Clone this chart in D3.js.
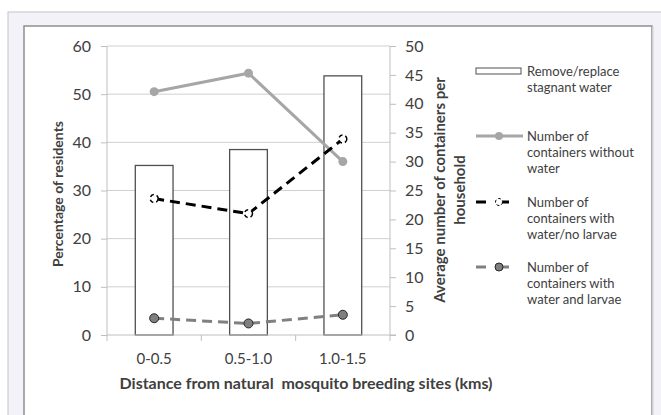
<!DOCTYPE html>
<html>
<head>
<meta charset="utf-8">
<script src="https://cdn.jsdelivr.net/npm/d3@7"></script>
<style>
  body { margin: 0; background: #fff; }
  text { font-family: Lato, "Open Sans", sans-serif; fill: #404040; }
  .axis path, .axis line { stroke: #bfbfbf; }
</style>
</head>
<body>
<div id="chart"></div>
<script>
// values
var categories = ["0-0.5", "0.5-1.0", "1.0-1.5"];
var removeReplace = [35.2, 38.5, 53.8];      // % of residents (left axis)
var withoutWater = [42.1, 45.3, 30.0];       // containers (right axis)
var waterNoLarvae = [23.6, 21.0, 33.9];
var waterLarvae = [2.9, 2.0, 3.5];
var leftTicks = [0, 10, 20, 30, 40, 50, 60];
var rightTicks = [0, 5, 10, 15, 20, 25, 30, 35, 40, 45, 50];

var W = 661, H = 415;
var plot = { left: 107, right: 390, top: 46, bottom: 335 };

var svg = d3.select("#chart").append("svg")
    .attr("width", W)
    .attr("height", H);

// window / panel background
svg.append("rect").attr("x", 8).attr("y", 12).attr("width", W).attr("height", H)
    .attr("fill", "#f2f2f8").attr("stroke", "#c4c4c8");
svg.append("rect").attr("x", 24).attr("y", 26).attr("width", 628).attr("height", H)
    .attr("fill", "#fff").attr("stroke", "#8f8f8f").attr("stroke-width", 1.5);
svg.append("line").attr("x1", 653).attr("x2", 653).attr("y1", 26).attr("y2", H)
    .attr("stroke", "#dcdcdc").attr("stroke-width", 1.5);

var x = d3.scaleBand()
    .domain(categories)
    .range([plot.left, plot.right])
    .paddingInner(0.6)
    .paddingOuter(0.3);
var yL = d3.scaleLinear().domain([0, 60]).range([plot.bottom, plot.top]);
var yR = d3.scaleLinear().domain([0, 50]).range([plot.bottom, plot.top]);
var cx = function(i) { return x(categories[i]) + x.bandwidth() / 2; };

// gridlines
svg.append("g").selectAll("line")
    .data(leftTicks.slice(1))
    .enter().append("line")
    .attr("x1", plot.left).attr("x2", plot.right)
    .attr("y1", function(d) { return yL(d); })
    .attr("y2", function(d) { return yL(d); })
    .attr("stroke", "#d0d0d0");

// bars
svg.append("g").selectAll("rect")
    .data(removeReplace)
    .enter().append("rect")
    .attr("x", function(d, i) { return x(categories[i]); })
    .attr("width", x.bandwidth())
    .attr("y", function(d) { return yL(d); })
    .attr("height", function(d) { return yL(0) - yL(d); })
    .attr("fill", "#fff")
    .attr("stroke", "#505050")
    .attr("stroke-width", 1.3);

// axes
var axL = svg.append("g").attr("class", "axis")
    .attr("transform", "translate(" + plot.left + ",0)")
    .call(d3.axisLeft(yL).tickValues(leftTicks).tickSize(6).tickPadding(10));
var axR = svg.append("g").attr("class", "axis")
    .attr("transform", "translate(" + plot.right + ",0)")
    .call(d3.axisRight(yR).tickValues(rightTicks).tickSize(6).tickPadding(9));
[axL, axR].forEach(function(a) {
    a.select(".domain").attr("d", "M0," + plot.top + "V" + plot.bottom);
    a.selectAll("text").style("font-size", "16px").attr("fill", "#404040");
});

var axX = svg.append("g").attr("class", "axis")
    .attr("transform", "translate(0," + plot.bottom + ")");
axX.append("line").attr("x1", plot.left).attr("x2", plot.right + 6)
    .attr("stroke", "#bfbfbf");
var edges = categories.map(function(c) { return x(c) - x.step() * x.paddingInner() / 2; });
edges[0] = plot.left;
edges.push(plot.right);
axX.selectAll(".tk").data(edges).enter().append("line")
    .attr("x1", function(d) { return d; }).attr("x2", function(d) { return d; })
    .attr("y1", 0).attr("y2", 6).attr("stroke", "#bfbfbf");
axX.selectAll(".lbl").data(categories).enter().append("text")
    .attr("x", function(d, i) { return cx(i); })
    .attr("y", 29)
    .attr("text-anchor", "middle")
    .style("font-size", "15px")
    .text(function(d) { return d; });

// line series
var line = d3.line()
    .x(function(d, i) { return cx(i); })
    .y(function(d) { return yR(d); });

function series(values, color, dash, width) {
    svg.append("path")
        .datum(values)
        .attr("d", line)
        .attr("fill", "none")
        .attr("stroke", color)
        .attr("stroke-width", width)
        .attr("stroke-dasharray", dash);
}
series(withoutWater, "#a6a6a6", null, 3);
series(waterNoLarvae, "#000", "10,6", 3);
series(waterLarvae, "#808080", "10,6", 3);

svg.append("g").selectAll("circle").data(withoutWater).enter().append("circle")
    .attr("cx", function(d, i) { return cx(i); }).attr("cy", function(d) { return yR(d); })
    .attr("r", 4.5).attr("fill", "#a6a6a6");
svg.append("g").selectAll("circle").data(waterNoLarvae).enter().append("circle")
    .attr("cx", function(d, i) { return cx(i); }).attr("cy", function(d) { return yR(d); })
    .attr("r", 4).attr("fill", "#fff").attr("stroke", "#000")
    .attr("stroke-width", 1.5).attr("stroke-dasharray", "4,3");
svg.append("g").selectAll("circle").data(waterLarvae).enter().append("circle")
    .attr("cx", function(d, i) { return cx(i); }).attr("cy", function(d) { return yR(d); })
    .attr("r", 4.5).attr("fill", "#7f7f7f").attr("stroke", "#262626");

// axis titles
svg.append("text")
    .attr("transform", "translate(306,389)")
    .attr("text-anchor", "middle")
    .style("font-size", "16px").style("font-weight", "bold").attr("fill", "#000")
    .style("white-space", "pre")
    .text("Distance from natural  mosquito breeding sites (kms)");
svg.append("text")
    .attr("transform", "translate(63,194) rotate(-90)")
    .attr("text-anchor", "middle")
    .style("font-size", "14px").style("font-weight", "bold").attr("fill", "#000")
    .text("Percentage of residents");
var rt = svg.append("text")
    .attr("transform", "translate(445,190) rotate(-90)")
    .attr("text-anchor", "middle")
    .style("font-size", "15px").style("font-weight", "bold").attr("fill", "#000");
rt.append("tspan").attr("x", 0).attr("dy", 0).text("Average number of containers per");
rt.append("tspan").attr("x", 0).attr("dy", 20).text("household");

// legend
var legend = [
    { lines: ["Remove/replace", "stagnant water"], y: 71 },
    { lines: ["Number of", "containers without", "water"], y: 136 },
    { lines: ["Number of", "containers with", "water/no larvae"], y: 202 },
    { lines: ["Number of", "containers with", "water and larvae"], y: 267 }
];
var lg = svg.append("g");
legend.forEach(function(item) {
    var t = lg.append("text").attr("x", 527).attr("y", item.y + 4.5)
        .style("font-size", "13px");
    item.lines.forEach(function(s, j) {
        t.append("tspan").attr("x", 527).attr("dy", j ? 16.3 : 0).text(s);
    });
});
lg.append("rect").attr("x", 476).attr("y", 68).attr("width", 45).attr("height", 6)
    .attr("fill", "#fff").attr("stroke", "#505050");
lg.append("line").attr("x1", 476).attr("x2", 523).attr("y1", 136).attr("y2", 136)
    .attr("stroke", "#a6a6a6").attr("stroke-width", 3);
lg.append("circle").attr("cx", 499).attr("cy", 136).attr("r", 4).attr("fill", "#a6a6a6");
lg.append("line").attr("x1", 476).attr("x2", 513).attr("y1", 202).attr("y2", 202)
    .attr("stroke", "#000").attr("stroke-width", 3).attr("stroke-dasharray", "10,14,9");
lg.append("circle").attr("cx", 499).attr("cy", 202).attr("r", 3.5).attr("fill", "#fff")
    .attr("stroke", "#000").attr("stroke-width", 1).attr("stroke-dasharray", "3,2");
lg.append("line").attr("x1", 476).attr("x2", 513).attr("y1", 267).attr("y2", 267)
    .attr("stroke", "#808080").attr("stroke-width", 3).attr("stroke-dasharray", "10,14,9");
lg.append("circle").attr("cx", 499).attr("cy", 267).attr("r", 4).attr("fill", "#7f7f7f")
    .attr("stroke", "#262626");
</script>
</body>
</html>
